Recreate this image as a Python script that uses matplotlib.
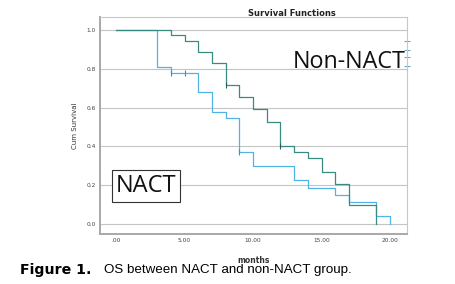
import matplotlib
matplotlib.use("Agg")
import matplotlib.pyplot as plt

# survival step data (months, cum survival)
nact_t = [0, 3, 4, 6, 7, 8, 9, 10, 13, 14, 16, 17, 19, 20]
nact_s = [1.0, 0.81, 0.78, 0.678, 0.576, 0.545, 0.373, 0.30, 0.225, 0.187, 0.151, 0.115, 0.039, 0.0]
nact_cens_t = [4, 5, 9]
nact_cens_s = [0.78, 0.78, 0.373]

non_t = [0, 4, 5, 6, 7, 8, 9, 10, 11, 12, 13, 14, 15, 16, 17, 19]
non_s = [1.0, 0.974, 0.942, 0.885, 0.83, 0.715, 0.653, 0.593, 0.527, 0.404, 0.373, 0.339, 0.27, 0.205, 0.10, 0.0]
non_cens_t = [8, 12]
non_cens_s = [0.715, 0.404]

# stray censor ticks on the right edge
edge_s = [0.943, 0.897, 0.859, 0.814]

yticks = [0.0, 0.2, 0.4, 0.6, 0.8, 1.0]
xticks = [0, 5, 10, 15, 20]
xtick_labels = [".00", "5.00", "10.00", "15.00", "20.00"]

NACT_COL = "#52b4e6"
NON_COL = "#3a8a84"

fig = plt.figure(figsize=(4.55, 2.84), dpi=100)
ax = fig.add_axes([100 / 455, 1 - 234 / 284, 307 / 455, 217 / 284])

ax.set_xlim(-1.17, 21.24)
ax.set_ylim(-0.052, 1.067)

for y in yticks:
    ax.axhline(y, color="#c4c4c4", lw=0.8, zorder=0)

ax.step(nact_t, nact_s, where="post", color=NACT_COL, lw=0.9)
ax.step(non_t, non_s, where="post", color=NON_COL, lw=0.9)
ax.plot(nact_cens_t, nact_cens_s, ls="none", marker="|", ms=4, mew=0.8, color="#3a90c0")
ax.plot(non_cens_t, non_cens_s, ls="none", marker="|", ms=4, mew=0.8, color="#2d5f5a")

ax.plot([21.24] * len(edge_s), edge_s, ls="none", marker="_", ms=4, mew=0.8,
        color="#6aa8c0", clip_on=False)

ax.set_yticks(yticks)
ax.set_yticklabels(["%.1f" % v for v in yticks])
ax.set_xticks(xticks)
ax.set_xticklabels(xtick_labels)
ax.tick_params(length=0, labelsize=4.2, colors="#444444", pad=3)

for s in ax.spines.values():
    s.set_color("#c8c8c8")
    s.set_linewidth(0.8)
ax.spines["left"].set_color("#a8a8a8")
ax.spines["left"].set_linewidth(1.4)
ax.spines["bottom"].set_color("#a8a8a8")
ax.spines["bottom"].set_linewidth(1.4)

ax.set_ylabel("Cum Survival", fontsize=5, color="#333333", labelpad=6)
ax.set_xlabel("months", fontsize=5.5, fontweight="bold", color="#333333", labelpad=9)

fig.text(292 / 455, 1 - 13 / 284, "Survival Functions", fontsize=6, fontweight="bold",
         ha="center", va="center", color="#222222")

ax.text(349 / 455, 1 - 62 / 284, "Non-NACT", transform=fig.transFigure, fontsize=16.8,
        family="Open Sans", ha="center", va="center", color="#111111")
ax.text(146 / 455, 1 - 186 / 284, "NACT", transform=fig.transFigure, fontsize=17,
        family="Open Sans", ha="center", va="center", color="#111111",
        bbox=dict(boxstyle="square,pad=0.15", fc="white", ec="#333333", lw=0.8))

fig.text(20 / 455, 1 - 270 / 284, "Figure 1.", fontsize=10.2, fontweight="bold",
         family="DejaVu Sans", va="center", ha="left")
fig.text(104 / 455, 1 - 270 / 284, "OS between NACT and non-NACT group.", fontsize=9.6,
         family="Liberation Sans", va="center", ha="left")

fig.savefig("out.png", dpi=100)
